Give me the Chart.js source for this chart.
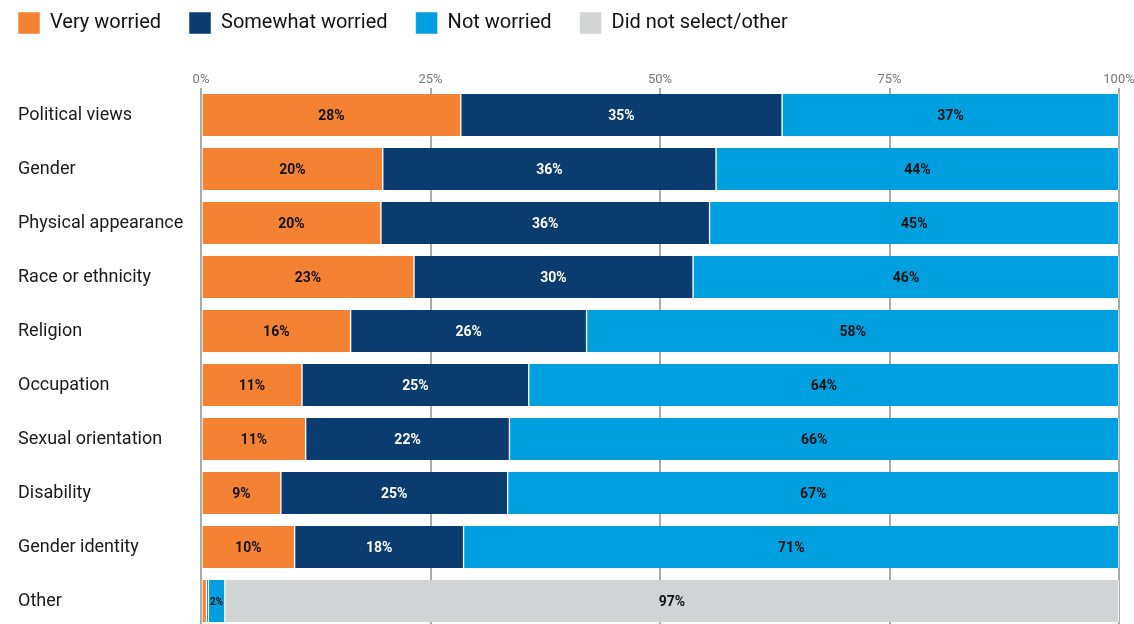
<!DOCTYPE html>
<html>
<head>
<meta charset="utf-8">
<title>Worries</title>
<script src="https://cdn.jsdelivr.net/npm/chart.js@4.4.1/dist/chart.umd.min.js"></script>
<style>
  html, body { margin: 0; padding: 0; background: #fff; overflow: hidden; }
  /* canvas sits a little higher so the legend hugs the top edge */
  #wrap { position: absolute; left: 0; top: -18px; width: 1134px; height: 648px; }
</style>
</head>
<body>
<div id="wrap"><canvas id="chart"></canvas></div>
<script>
const categories = [
  "Political views", "Gender", "Physical appearance", "Race or ethnicity", "Religion",
  "Occupation", "Sexual orientation", "Disability", "Gender identity", "Other"
];
// shares in percent; the printed labels are these rounded
const veryWorried     = [28.3, 19.8, 19.6, 23.2, 16.3, 11.0, 11.4, 8.7, 10.2, 0.6];
const somewhatWorried = [35.0, 36.3, 35.8, 30.4, 25.7, 24.7, 22.2, 24.7, 18.4, 0.2];
const notWorried      = [36.7, 43.9, 44.6, 46.4, 58.0, 64.3, 66.4, 66.6, 71.4, 1.8];
const didNotSelect    = [null, null, null, null, null, null, null, null, null, 97.4];
const xTicks = [0, 25, 50, 75, 100];

const FONT = "Roboto, 'Noto Sans', sans-serif";
const LEGEND_PAD = 28;

// Percent text drawn in the middle of each segment, shrunk when the segment is narrow.
const segmentLabels = {
  id: 'segmentLabels',
  afterDatasetsDraw(chart) {
    const ctx = chart.ctx;
    const area = chart.chartArea;
    ctx.save();
    ctx.textAlign = 'center';
    ctx.textBaseline = 'middle';
    chart.data.datasets.forEach((ds, i) => {
      const meta = chart.getDatasetMeta(i);
      meta.data.forEach((bar, j) => {
        const v = ds.data[j];
        if (v == null || v < 1.5) return;
        const x0 = Math.max(Math.min(bar.base, bar.x), area.left);
        const x1 = Math.min(Math.max(bar.base, bar.x), area.right);
        const text = Math.round(v) + '%';
        let size = 14;
        ctx.font = `bold ${size}px ${FONT}`;
        while (ctx.measureText(text).width > (x1 - x0) - 3 && size > 6) {
          size--;
          ctx.font = `bold ${size}px ${FONT}`;
        }
        ctx.fillStyle = ds.labelColor;
        ctx.fillText(text, (x0 + x1) / 2, bar.y + 1);
      });
    });
    ctx.restore();
  }
};

// legend starts flush with the category labels instead of one padding further in
const legendNudge = {
  id: 'legendNudge',
  afterLayout(chart) {
    chart.legend.left -= LEGEND_PAD;
    chart.legend.right -= LEGEND_PAD;
    chart.legend.top += 2;
    chart.legend.bottom += 2;
  }
};

function series(label, data, color, labelColor) {
  return {
    label: label,
    data: data,
    backgroundColor: color,
    borderColor: '#ffffff',
    borderWidth: { left: 1, right: 1, top: 0, bottom: 0 },
    borderSkipped: false,
    barThickness: 42,
    labelColor: labelColor
  };
}

new Chart(document.getElementById('chart'), {
  type: 'bar',
  data: {
    labels: categories,
    datasets: [
      series('Very worried', veryWorried, '#f58233', '#111111'),
      series('Somewhat worried', somewhatWorried, '#0b3c6f', '#ffffff'),
      series('Not worried', notWorried, '#00a0e0', '#111111'),
      series('Did not select/other', didNotSelect, '#d1d3d4', '#111111')
    ]
  },
  options: {
    indexAxis: 'y',
    responsive: true,
    maintainAspectRatio: false,
    animation: false,
    layout: { padding: { left: 18, right: 15, top: 0, bottom: 2 } },
    plugins: {
      tooltip: { enabled: false },
      legend: {
        position: 'top',
        align: 'start',
        labels: {
          boxWidth: 22,
          boxHeight: 22,
          padding: LEGEND_PAD,
          color: '#111111',
          font: { family: FONT, size: 20 }
        }
      }
    },
    scales: {
      x: {
        position: 'top',
        stacked: true,
        min: 0,
        max: 100,
        afterBuildTicks: (scale) => { scale.ticks = xTicks.map(v => ({ value: v })); },
        afterFit: (scale) => {
          scale.height = 46;
          scale.paddingLeft = 0;
          scale.paddingRight = 0;
        },
        ticks: {
          padding: 0,
          color: '#777777',
          font: { family: FONT, size: 13 },
          callback: (v) => v + '%'
        },
        grid: { color: '#aaaaaa', lineWidth: 2, drawTicks: false },
        border: { display: false }
      },
      y: {
        stacked: true,
        afterFit: (scale) => {
          scale.width = 183;
          scale.paddingTop = 0;
          scale.paddingBottom = 0;
        },
        ticks: {
          crossAlign: 'far',
          padding: 0,
          color: '#1a1a1a',
          font: { family: FONT, size: 18 }
        },
        grid: { display: false },
        border: { display: false }
      }
    }
  },
  plugins: [segmentLabels, legendNudge]
});
</script>
</body>
</html>
